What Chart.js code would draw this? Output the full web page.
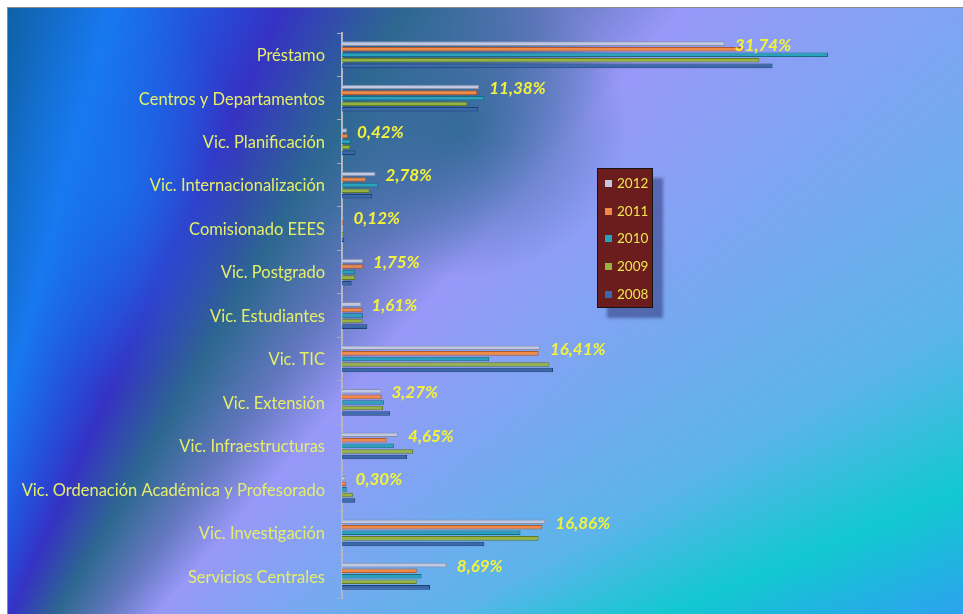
<!DOCTYPE html>
<html>
<head>
<meta charset="utf-8">
<script src="https://cdn.jsdelivr.net/npm/chart.js@4.4.1/dist/chart.umd.min.js"></script>
<style>
  html, body { margin: 0; padding: 0; background: #fff; }
  #wrap { position: relative; width: 963px; height: 614px; overflow: hidden; }
  #bg {
    position: absolute; left: 7px; top: 7px; right: 0; bottom: 0;
    border-left: 1px solid #8a8a8a; border-top: 1px solid #8a8a8a;
    background:
      radial-gradient(ellipse 170px 150px at 450px 120px, rgba(44, 104, 146, 0.85), rgba(44, 104, 146, 0) 100%),
      radial-gradient(ellipse 120px 200px at 110px 180px, rgba(20, 124, 240, 0.6), rgba(20, 124, 240, 0) 100%),
      conic-gradient(from 0deg at -150px 950px,
        #0d5a98 0deg, #0f62a8 9deg, #1878f0 15deg, #2450dc 20deg, #3532c4 24deg,
        #2d6890 30deg, #6478c0 36deg, #9898f8 41deg, #80a4f2 49deg,
        #5cb4ea 60deg, #12c8d0 67deg, #2ea0f0 73deg, #2ea0f0 90deg);
  }
  #chart { position: absolute; left: 0; top: 0; }
  #legend {
    position: absolute; left: 597px; top: 168px; width: 54px; height: 138px;
    background: #6b1c1c; border: 1px solid #151515;
    box-shadow: 10px 10px 3px rgba(45, 55, 120, 0.55);
    font-family: Lato, "Noto Sans", sans-serif; font-size: 13.5px; color: #f2e650;
  }
  .item { position: absolute; left: 7px; height: 16px; line-height: 16px; }
  .sw { display: inline-block; width: 7px; height: 7px; margin-right: 5px; vertical-align: 1px; }
</style>
</head>
<body>
<div id="wrap">
  <div id="bg"></div>
  <canvas id="chart" width="963" height="614"></canvas>
  <div id="legend"></div>
</div>
<script>
const categories = ["Préstamo", "Centros y Departamentos", "Vic. Planificación", "Vic. Internacionalización",
  "Comisionado EEES", "Vic. Postgrado", "Vic. Estudiantes", "Vic. TIC", "Vic. Extensión",
  "Vic. Infraestructuras", "Vic. Ordenación Académica y Profesorado", "Vic. Investigación", "Servicios Centrales"];
const years = ["2012", "2011", "2010", "2009", "2008"];
const v2012 = [31.74, 11.38, 0.42, 2.78, 0.12, 1.75, 1.61, 16.41, 3.27, 4.65, 0.30, 16.86, 8.69];
const v2011 = [33.3, 11.2, 0.5, 2.0, 0.1, 1.75, 1.7, 16.3, 3.3, 3.7, 0.35, 16.6, 6.2];
const v2010 = [40.3, 11.8, 0.75, 3.0, 0.0, 1.1, 1.75, 12.2, 3.5, 4.3, 0.4, 14.8, 6.6];
const v2009 = [34.6, 10.4, 0.7, 2.3, 0.1, 1.1, 1.7, 17.2, 3.4, 5.9, 0.9, 16.3, 6.2];
const v2008 = [35.7, 11.3, 1.1, 2.5, 0.2, 0.8, 2.1, 17.5, 4.0, 5.4, 1.1, 11.8, 7.3];

const fills = ["#c0c8e2", "#f08a48", "#2aa2bc", "#98b440", "#3a68aa"];
const edges = ["#8890a8", "#b05a28", "#1a6a80", "#607828", "#203e70"];

const series = [v2012, v2011, v2010, v2009, v2008];

// percentage labels next to the 2012 bars
const valueLabels = {
    id: "valueLabels",
    afterDatasetsDraw(chart) {
        const ctx = chart.ctx;
        const meta = chart.getDatasetMeta(0);
        ctx.save();
        ctx.font = "italic bold 17px Lato, 'Noto Sans', sans-serif";
        ctx.fillStyle = "#f2f23c";
        ctx.textBaseline = "middle";
        ctx.textAlign = "left";
        meta.data.forEach((bar, i) => {
            const txt = v2012[i].toFixed(2).replace(".", ",") + "%";
            ctx.fillText(txt, bar.x + 10, bar.y + 1.5);
        });
        ctx.restore();
    }
};

const chart = new Chart(document.getElementById("chart").getContext("2d"), {
    type: "bar",
    data: {
        labels: categories,
        datasets: years.map((y, i) => ({
            label: y,
            data: series[i],
            backgroundColor: fills[i],
            borderColor: edges[i],
            borderWidth: 1,
            categoryPercentage: 0.64,
            barPercentage: 0.82
        }))
    },
    options: {
        indexAxis: "y",
        responsive: false,
        animation: false,
        layout: { padding: { top: 33, bottom: 16, left: 0, right: 18 } },
        plugins: { legend: { display: false }, tooltip: { enabled: false } },
        scales: {
            x: { type: "linear", min: 0, max: 50, display: false },
            y: {
                afterFit(scale) {
                    scale.width = 342;
                    scale.paddingTop = 0;
                    scale.paddingBottom = 0;
                },
                ticks: {
                    color: "#e4ee6a",
                    padding: 12,
                    labelOffset: 1,
                    font: { family: "Lato, 'Noto Sans', sans-serif", size: 16.5 }
                },
                grid: { drawOnChartArea: false, tickLength: 5, color: "#a8aab8", offset: true },
                border: { display: true, color: "#b4b6c4", width: 2 }
            }
        }
    },
    plugins: [valueLabels]
});

const legend = document.getElementById("legend");
chart.data.datasets.forEach((ds, i) => {
    const row = document.createElement("div");
    row.className = "item";
    row.style.top = (6 + i * 27.7) + "px";
    row.innerHTML = '<span class="sw" style="background:' + ds.backgroundColor + '"></span>' + ds.label;
    legend.appendChild(row);
});
</script>
</body>
</html>
